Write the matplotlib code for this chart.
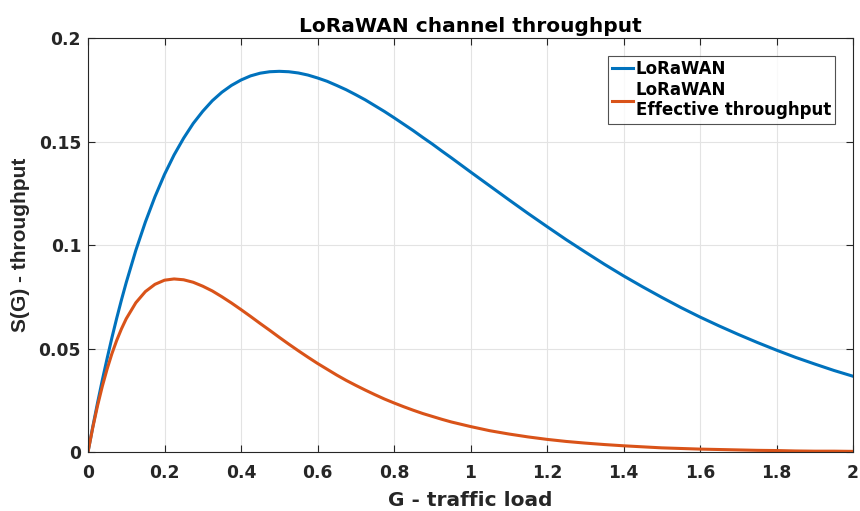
import matplotlib
matplotlib.use("Agg")
import matplotlib.pyplot as plt

# G - traffic load
load = [0, 0.0125, 0.025, 0.0375, 0.05, 0.0625, 0.075, 0.0875, 0.1, 0.125,
        0.15, 0.175, 0.2, 0.225, 0.25, 0.275, 0.3, 0.325, 0.35, 0.375, 0.4,
        0.425, 0.45, 0.475, 0.5, 0.525, 0.55, 0.575, 0.6, 0.625, 0.65, 0.675,
        0.7, 0.725, 0.75, 0.775, 0.8, 0.825, 0.85, 0.875, 0.9, 0.925, 0.95,
        0.975, 1.0, 1.05, 1.1, 1.15, 1.2, 1.25, 1.3, 1.35, 1.4, 1.45, 1.5,
        1.55, 1.6, 1.65, 1.7, 1.75, 1.8, 1.85, 1.9, 1.95, 2.0]
# S(G)
lorawan = [0, 0.0122, 0.0238, 0.0348, 0.0452, 0.0552, 0.0646, 0.0735, 0.0819,
           0.0974, 0.1111, 0.1233, 0.1341, 0.1435, 0.1516, 0.1587, 0.1646,
           0.1697, 0.1738, 0.1771, 0.1797, 0.1817, 0.1830, 0.1837, 0.1839,
           0.1837, 0.1831, 0.1821, 0.1807, 0.1791, 0.1771, 0.1750, 0.1726,
           0.1701, 0.1673, 0.1645, 0.1615, 0.1584, 0.1553, 0.1520, 0.1488,
           0.1454, 0.1421, 0.1387, 0.1353, 0.1286, 0.1219, 0.1153, 0.1089,
           0.1026, 0.0966, 0.0907, 0.0851, 0.0798, 0.0747, 0.0698, 0.0652,
           0.0609, 0.0568, 0.0529, 0.0492, 0.0457, 0.0425, 0.0394, 0.0366]
effective = [0, 0.0118, 0.0224, 0.0318, 0.0401, 0.0475, 0.0539, 0.0595, 0.0644,
             0.0721, 0.0775, 0.0810, 0.0830, 0.0836, 0.0832, 0.0820, 0.0801,
             0.0778, 0.0750, 0.0720, 0.0688, 0.0655, 0.0621, 0.0588, 0.0554,
             0.0521, 0.0489, 0.0458, 0.0428, 0.0400, 0.0372, 0.0346, 0.0322,
             0.0299, 0.0277, 0.0256, 0.0237, 0.0219, 0.0202, 0.0186, 0.0172,
             0.0158, 0.0145, 0.0134, 0.0123, 0.0103, 0.0087, 0.0073, 0.0061,
             0.0051, 0.0043, 0.0036, 0.0030, 0.0025, 0.0020, 0.0017, 0.0014,
             0.0012, 0.0010, 0.0008, 0.0007, 0.0005, 0.0004, 0.0004, 0.0003]

x_ticks = [0, 0.2, 0.4, 0.6, 0.8, 1, 1.2, 1.4, 1.6, 1.8, 2]
x_labels = ["0", "0.2", "0.4", "0.6", "0.8", "1", "1.2", "1.4", "1.6", "1.8", "2"]
y_ticks = [0, 0.05, 0.1, 0.15, 0.2]
y_labels = ["0", "0.05", "0.1", "0.15", "0.2"]

plt.rcParams["font.family"] = ["DejaVu Sans"]
plt.rcParams["font.weight"] = "bold"
TXT = "#262626"

fig = plt.figure(figsize=(8.6, 5.11), dpi=100)
ax = fig.add_axes([88 / 860, 1 - 452 / 511, (853 - 88) / 860, (452 - 38) / 511])

ax.plot(load, lorawan, color="#0072BD", linewidth=2.2, label="LoRaWAN")
ax.plot(load, effective, color="#D95319", linewidth=2.2,
        label="LoRaWAN\nEffective throughput")

ax.set_xlim(0, 2)
ax.set_ylim(0, 0.2)
ax.set_xticks(x_ticks, labels=x_labels)
ax.set_yticks(y_ticks, labels=y_labels)
ax.tick_params(direction="in", length=5, width=0.8, colors=TXT,
               labelsize=12.3, top=True, right=True)
ax.tick_params(axis="x", pad=9)
ax.tick_params(axis="y", pad=5)
for lbl in ax.get_xticklabels() + ax.get_yticklabels():
    lbl.set_fontweight("bold")
for s in ax.spines.values():
    s.set_color(TXT)
    s.set_linewidth(0.8)
ax.grid(True, color="#e3e3e3", linewidth=0.8)
ax.set_axisbelow(True)

ax.set_title("LoRaWAN channel throughput", fontsize=14.5, fontweight="bold",
             pad=4, color="black")
ax.set_xlabel("G - traffic load", fontsize=14.5, fontweight="bold",
              labelpad=6, color=TXT)
ax.set_ylabel("S(G) - throughput", fontsize=15, fontweight="bold",
              family=["Liberation Sans", "DejaVu Sans"], labelpad=6, color=TXT)

leg = ax.legend(loc="upper right", bbox_to_anchor=(0.9765, 0.9565),
                prop={"size": 12, "weight": "bold"}, frameon=True,
                fancybox=False, edgecolor=TXT, handlelength=1.25,
                handletextpad=0.15, borderpad=0.25, labelspacing=0.15,
                borderaxespad=0)
leg.get_frame().set_linewidth(0.8)

fig.savefig("out.png", dpi=100)
